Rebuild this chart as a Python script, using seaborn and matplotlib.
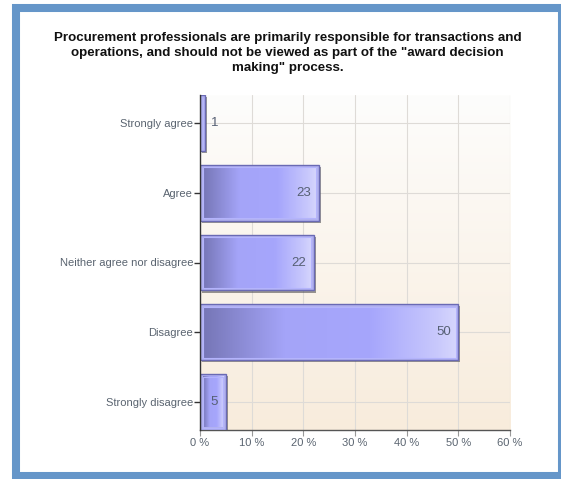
import numpy as np
import pandas as pd
import matplotlib
matplotlib.use("Agg")
import matplotlib.pyplot as plt
import seaborn as sns
from matplotlib.colors import LinearSegmentedColormap
from matplotlib.patches import Rectangle
import matplotlib.patheffects as pe

categories = ["Strongly agree", "Agree", "Neither agree nor disagree",
              "Disagree", "Strongly disagree"]
percentages = [1, 23, 22, 50, 5]
xticks = [0, 10, 20, 30, 40, 50, 60]
xtick_labels = [f"{t} %" for t in xticks]
title = ('Procurement professionals are primarily responsible for transactions and\n'
         'operations, and should not be viewed as part of the "award decision\n'
         'making" process.')

sns.set_theme(style="white")
plt.rcParams['font.family'] = ['Liberation Sans', 'DejaVu Sans']

W, H = 561, 479
fig = plt.figure(figsize=(W / 100, H / 100), dpi=100)
fig.patch.set_facecolor('white')

# blue frame around the whole panel
fig.add_artist(Rectangle((16 / W, (H - 476) / H), (562 - 16) / W, (476 - 8) / H,
                         transform=fig.transFigure, fill=False,
                         edgecolor='#6596c9', linewidth=5.8, zorder=0))

ax = fig.add_axes([200 / W, 49 / H, 310 / W, 335 / H])

df = pd.DataFrame({"category": categories, "percent": percentages})
sns.barplot(data=df, x="percent", y="category", orient="h", order=categories,
            width=0.8, color="#a6a6fa", edgecolor="#6a6ab4", linewidth=1.0,
            ax=ax, zorder=3)

ax.set_xlim(0, 60)
ax.set_ylim(4.4, -0.4)

# soft vertical background wash
bg_cmap = LinearSegmentedColormap.from_list("bg", ["#fdfdfc", "#f8ecdc"])
ax.imshow(np.linspace(0, 1, 256).reshape(-1, 1), extent=(0, 1, 0, 1),
          transform=ax.transAxes, cmap=bg_cmap, aspect="auto", zorder=-1)

# bar fill: dark on the left, flat in the middle, light on the right
bar_cmap = LinearSegmentedColormap.from_list(
    "bar", [(0.0, "#7676b6"), (0.32, "#a4a4f8"), (0.66, "#a6a6fc"),
            (0.92, "#c8c8fc"), (1.0, "#d6d6fd")])
grad = np.linspace(0, 1, 256).reshape(1, -1)
px_x = 60 / 310
px_y = 4.8 / 335
for patch in ax.patches:
    x0, y0 = patch.get_x(), patch.get_y()
    w, h = patch.get_width(), patch.get_height()
    patch.set_path_effects([pe.SimplePatchShadow(offset=(1.5, -1.5),
                                                 shadow_rgbFace="#444444",
                                                 alpha=0.55),
                            pe.Normal()])
    ix0, ix1 = x0 + 2.5 * px_x, x0 + w - 2.5 * px_x
    iy0, iy1 = y0 + 2.5 * px_y, y0 + h - 2.5 * px_y
    if ix1 > ix0:
        ax.imshow(grad, extent=(ix0, ix1, iy1, iy0), cmap=bar_cmap,
                  aspect="auto", zorder=3.5, interpolation="bilinear")
        ax.add_patch(Rectangle((ix0, iy0), ix1 - ix0, iy1 - iy0, fill=False,
                               edgecolor="#b4b4fc", linewidth=0.8, zorder=3.6))

ax.set_xlim(0, 60)
ax.set_ylim(4.4, -0.4)

ax.set_axisbelow(True)
ax.grid(True, color="#dedbd7", linewidth=0.8)
ax.set_xticks(xticks)
ax.set_xticklabels(xtick_labels)
ax.set_xlabel("")
ax.set_ylabel("")

for side in ("top", "right"):
    ax.spines[side].set_visible(False)
ax.spines["left"].set_color("#333333")
ax.spines["bottom"].set_color("#555555")
ax.spines["left"].set_linewidth(1.0)
ax.spines["bottom"].set_linewidth(1.0)
ax.spines["left"].set_zorder(5)

ax.tick_params(axis="y", length=4, width=1, color="#333333", labelsize=8,
               labelcolor="#5a6470", pad=1, left=True)
ax.tick_params(axis="x", length=4, width=0.8, color="#999999", labelsize=8,
               labelcolor="#5a6470", pad=2, bottom=True)

# value labels
for i, v in enumerate(percentages):
    if v >= 3:
        ax.annotate(str(v), (v, i), xytext=(-5.5, 0), textcoords="offset points",
                    ha="right", va="center", fontsize=9.5, color="#566074", zorder=6)
    else:
        ax.annotate(str(v), (v, i), xytext=(4.5, 0), textcoords="offset points",
                    ha="left", va="center", fontsize=9.5, color="#566074", zorder=6)

fig.text(0.513, (H - 53) / H, title, ha="center", va="center", fontsize=9.6,
         fontweight="bold", color="#111111", linespacing=1.3)

fig.savefig("out.png", dpi=100)
